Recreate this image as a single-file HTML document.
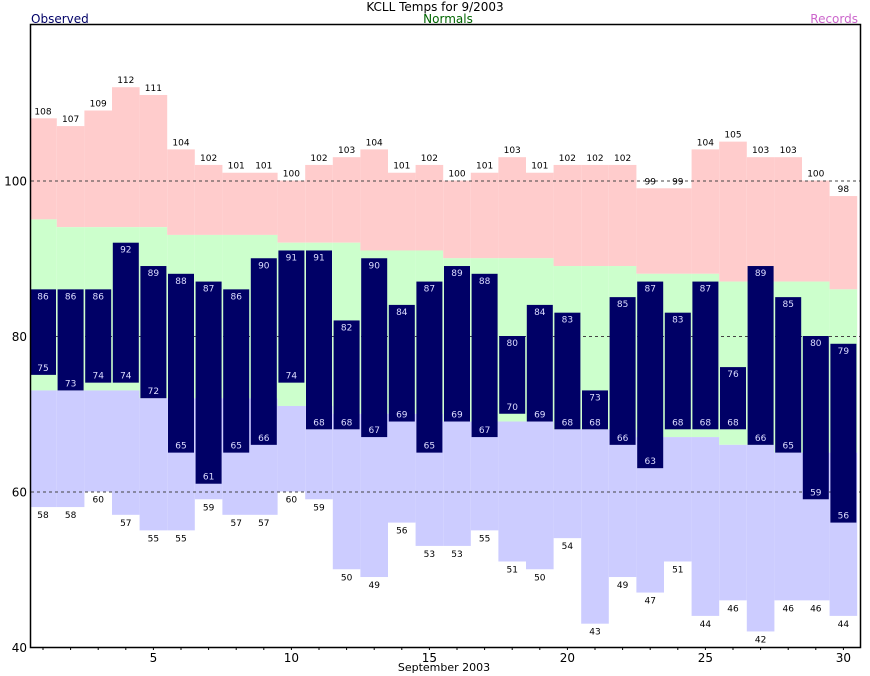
<!DOCTYPE html>
<html><head><meta charset="utf-8"><style>
body{margin:0;background:#fff;}
svg{display:block;font-family:"DejaVu Sans","Liberation Sans",sans-serif;}
</style></head><body>
<svg id="chart" width="870" height="676">
<text x="435" y="11" text-anchor="middle" font-size="12" fill="#000">KCLL Temps for 9/2003</text>
<text x="31" y="23" font-size="12" fill="#000066">Observed</text>
<text x="448" y="23" text-anchor="middle" font-size="12" fill="#006600">Normals</text>
<text x="858" y="23" text-anchor="end" font-size="12" fill="#cc66cc">Records</text>
<text x="444" y="671" text-anchor="middle" font-size="11" fill="#000">September 2003</text>
<g id="plot"></g>
</svg>
<script>
const days=[1,2,3,4,5,6,7,8,9,10,11,12,13,14,15,16,17,18,19,20,21,22,23,24,25,26,27,28,29,30];
const recHigh=[108,107,109,112,111,104,102,101,101,100,102,103,104,101,102,100,101,103,101,102,102,102,99,99,104,105,103,103,100,98];
const recLow=[58,58,60,57,55,55,59,57,57,60,59,50,49,56,53,53,55,51,50,54,43,49,47,51,44,46,42,46,46,44];
const normHigh=[95,94,94,94,94,93,93,93,93,92,92,92,91,91,91,90,90,90,90,89,89,89,88,88,88,87,87,87,87,86];
const normLow=[73,73,73,73,72,72,72,72,72,71,71,70,70,70,70,69,69,69,69,68,68,68,67,67,67,66,66,65,65,65];
const obsHigh=[86,86,86,92,89,88,87,86,90,91,91,82,90,84,87,89,88,80,84,83,73,85,87,83,87,76,89,85,80,79];
const obsLow=[75,73,74,74,72,65,61,65,66,74,68,68,67,69,65,69,67,70,69,68,68,66,63,68,68,68,66,65,59,56];
const yTicks=[40,60,80,100];
const xTicks=[5,10,15,20,25,30];

const L=31,R=860,T=25,B=647,ymin=40,ymax=120;
const xs=d=>43+(d-1)*27.6;
const ys=v=>B-(v-ymin)*(B-T)/(ymax-ymin);
const NS='http://www.w3.org/2000/svg';
const g=document.getElementById('plot');
function mk(t,a,p){const e=document.createElementNS(NS,t);for(const k in a)e.setAttribute(k,a[k]);(p||g).appendChild(e);return e;}
const cl=(x)=>Math.max(L,Math.min(R,x));

days.forEach((d,i)=>{
  const x0=cl(xs(d)-13.8),x1=cl(xs(d)+13.8),w=x1-x0;
  let r=mk('rect',{x:x0,y:ys(recHigh[i]),width:w,height:ys(normHigh[i])-ys(recHigh[i]),fill:'#ffcccc'});
  
  
  r=mk('rect',{x:x0,y:ys(normHigh[i]),width:w,height:ys(normLow[i])-ys(normHigh[i]),fill:'#ccffcc'});
  
  
  r=mk('rect',{x:x0,y:ys(normLow[i]),width:w,height:ys(recLow[i])-ys(normLow[i]),fill:'#ccccff'});
  
  
});
yTicks.forEach(v=>{
  if(v>ymin){const l=mk('line',{x1:L,x2:R,y1:ys(v)+0.5,y2:ys(v)+0.5,stroke:'#444','stroke-dasharray':'3,3','stroke-width':1});
  
  }
  const t=mk('text',{x:L-4,y:ys(v)+5,'text-anchor':'end','font-size':12,fill:'#000'});t.textContent=v;
  
  
});
days.forEach((d,i)=>{
  const x=xs(d);
  const b=mk('rect',{x:x-13,y:ys(obsHigh[i]),width:26,height:ys(obsLow[i])-ys(obsHigh[i]),fill:'#000066'});
  
  
  let t=mk('text',{x:x,y:ys(obsHigh[i])+10,'text-anchor':'middle','font-size':9,fill:'#ddddff'});t.textContent=obsHigh[i];
  
  
  t=mk('text',{x:x,y:ys(obsLow[i])-4,'text-anchor':'middle','font-size':9,fill:'#ddddff'});t.textContent=obsLow[i];
  
  
  t=mk('text',{x:x,y:ys(recHigh[i])-4,'text-anchor':'middle','font-size':9,fill:'#000'});t.textContent=recHigh[i];
  
  
  t=mk('text',{x:x,y:ys(recLow[i])+11,'text-anchor':'middle','font-size':9,fill:'#000'});t.textContent=recLow[i];
  
  
  const tk=mk('line',{x1:x,x2:x,y1:B,y2:B+3,stroke:'#000'});
  
  
});
xTicks.forEach(d=>{
  const t=mk('text',{x:xs(d),y:B+15,'text-anchor':'middle','font-size':12,fill:'#000'});t.textContent=d;
  
  
});
const fr=mk('rect',{x:L-0.5,y:T-0.5,width:R-L+1,height:B-T+1,fill:'none',stroke:'#000','stroke-width':1.5});


</script>
</body></html>
